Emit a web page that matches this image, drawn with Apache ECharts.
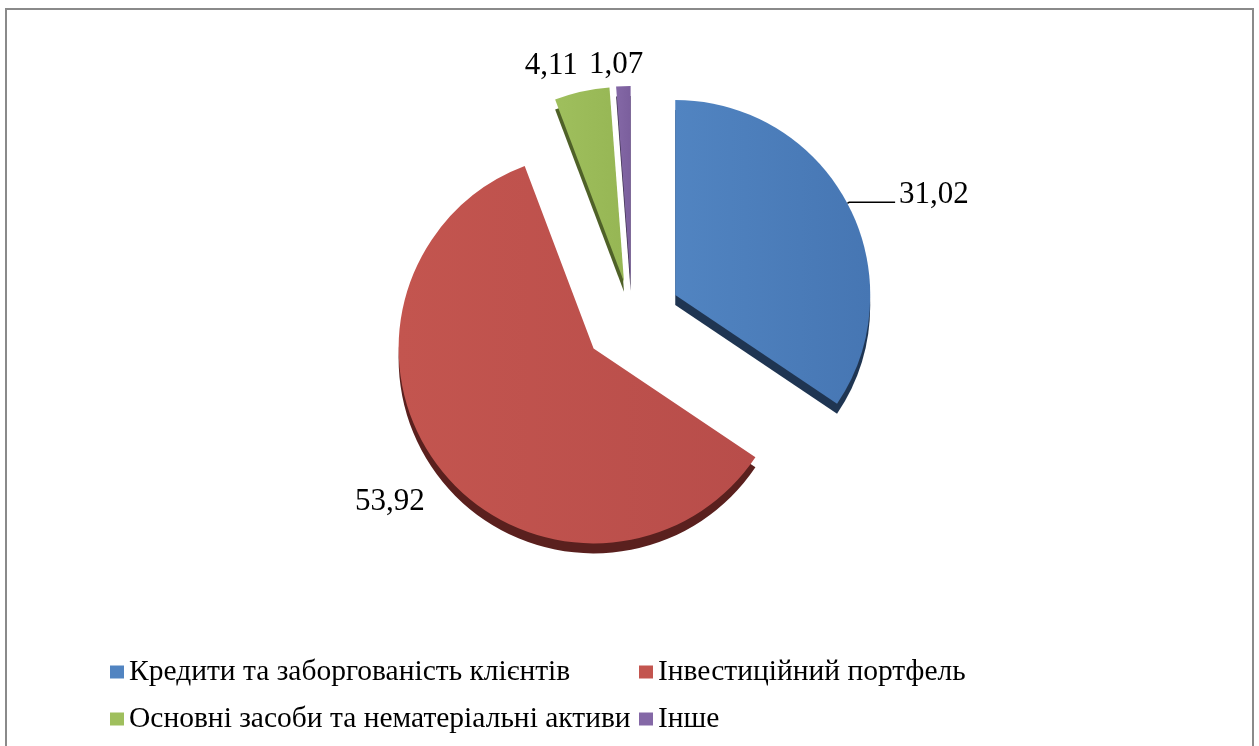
<!DOCTYPE html>
<html>
<head>
<meta charset="utf-8">
<script src="https://cdn.jsdelivr.net/npm/echarts@6/dist/echarts.min.js"></script>
<style>
  html, body { margin: 0; padding: 0; background: #ffffff; }
  #chart { width: 1259px; height: 746px; }
</style>
</head>
<body>
<div id="chart"></div>
<script>
// Structure of assets, %
const categories = [
  'Кредити та заборгованість клієнтів',
  'Інвестиційний портфель',
  'Основні засоби та нематеріальні активи',
  'Інше'
];
const shares = [31.02, 53.92, 4.11, 1.07];

// Slice styling: top face (light -> dark), extruded edge, explode distance
const faceLight = ['#5184c1', '#c3554f', '#9fbf5d', '#8468a6'];
const faceDark  = ['#4676b3', '#b84d4a', '#96b654', '#7b5f9d'];
const edgeColors = ['#1f3552', '#5a201e', '#4f6128', '#3e3150'];
const explode = [49, 49, 37, 37];
// label nudges [dx, dy] and leader line lengths per slice
const labelShift = [[0, -7], [-12, 32], [0, -26], [24, -21]];
const leader = [[2, 46], [0, 0], [0, 0], [0, 0]];

const FONT = '"Liberation Serif", "DejaVu Serif", serif';
const fmt = v => v.toFixed(2).replace('.', ',');

const chart = echarts.init(document.getElementById('chart'), null, { renderer: 'canvas' });

// one pie layer per slice so every slice can have its own explode distance
const series = shares.map((_, i) => ({
  type: 'pie',
  center: [632, 318],
  radius: 195,
  startAngle: 90,
  clockwise: true,
  selectedMode: 'multiple',
  selectedOffset: explode[i],
  avoidLabelOverlap: false,
  animation: false,
  silent: true,
  emphasis: { disabled: true },
  z: 2,
  data: categories.map((name, j) => ({
    name,
    value: shares[j],
    selected: j === i,
    itemStyle: j === i ? {
      color: new echarts.graphic.LinearGradient(0, 0, 1, 0, [
        { offset: 0, color: faceLight[j] },
        { offset: 1, color: faceDark[j] }
      ]),
      borderWidth: 0,
      shadowColor: edgeColors[j],
      shadowBlur: 0,
      shadowOffsetX: 0,
      shadowOffsetY: 10
    } : { color: 'rgba(0,0,0,0)', borderWidth: 0 },
    label: {
      show: j === i,
      position: 'outside',
      formatter: p => fmt(p.value),
      fontFamily: FONT,
      fontSize: 31,
      color: '#000000',
      distanceToLabelLine: 4
    },
    labelLine: {
      show: j === i && leader[j][0] + leader[j][1] > 0,
      length: leader[j][0],
      length2: leader[j][1],
      smooth: false,
      lineStyle: { color: '#000000', width: 1.5 }
    }
  })),
  labelLayout: p => p.dataIndex === i ? { dx: labelShift[i][0], dy: labelShift[i][1] } : {}
}));

const legendText = { fontFamily: FONT, fontSize: 29.5, color: '#000000', lineHeight: 30 };
const legendItem = j => ({
  name: categories[j],
  itemStyle: { color: faceLight[j] },
  textStyle: legendText
});

chart.setOption({
  backgroundColor: '#ffffff',
  animation: false,
  graphic: [{
    type: 'rect',
    shape: { x: 6, y: 9, width: 1247, height: 800 },
    style: { fill: 'none', stroke: '#8a8a8a', lineWidth: 2 },
    silent: true,
    z: 0
  }],
  legend: [
    {
      orient: 'vertical', left: 110, top: 657, itemGap: 17, padding: 0,
      icon: 'rect', itemWidth: 14, itemHeight: 13,
      selectedMode: false,
      textStyle: legendText,
      data: [legendItem(0), legendItem(2)]
    },
    {
      orient: 'vertical', left: 639, top: 657, itemGap: 17, padding: 0,
      icon: 'rect', itemWidth: 14, itemHeight: 13,
      selectedMode: false,
      textStyle: legendText,
      data: [legendItem(1), legendItem(3)]
    }
  ],
  series
});
</script>
</body>
</html>
